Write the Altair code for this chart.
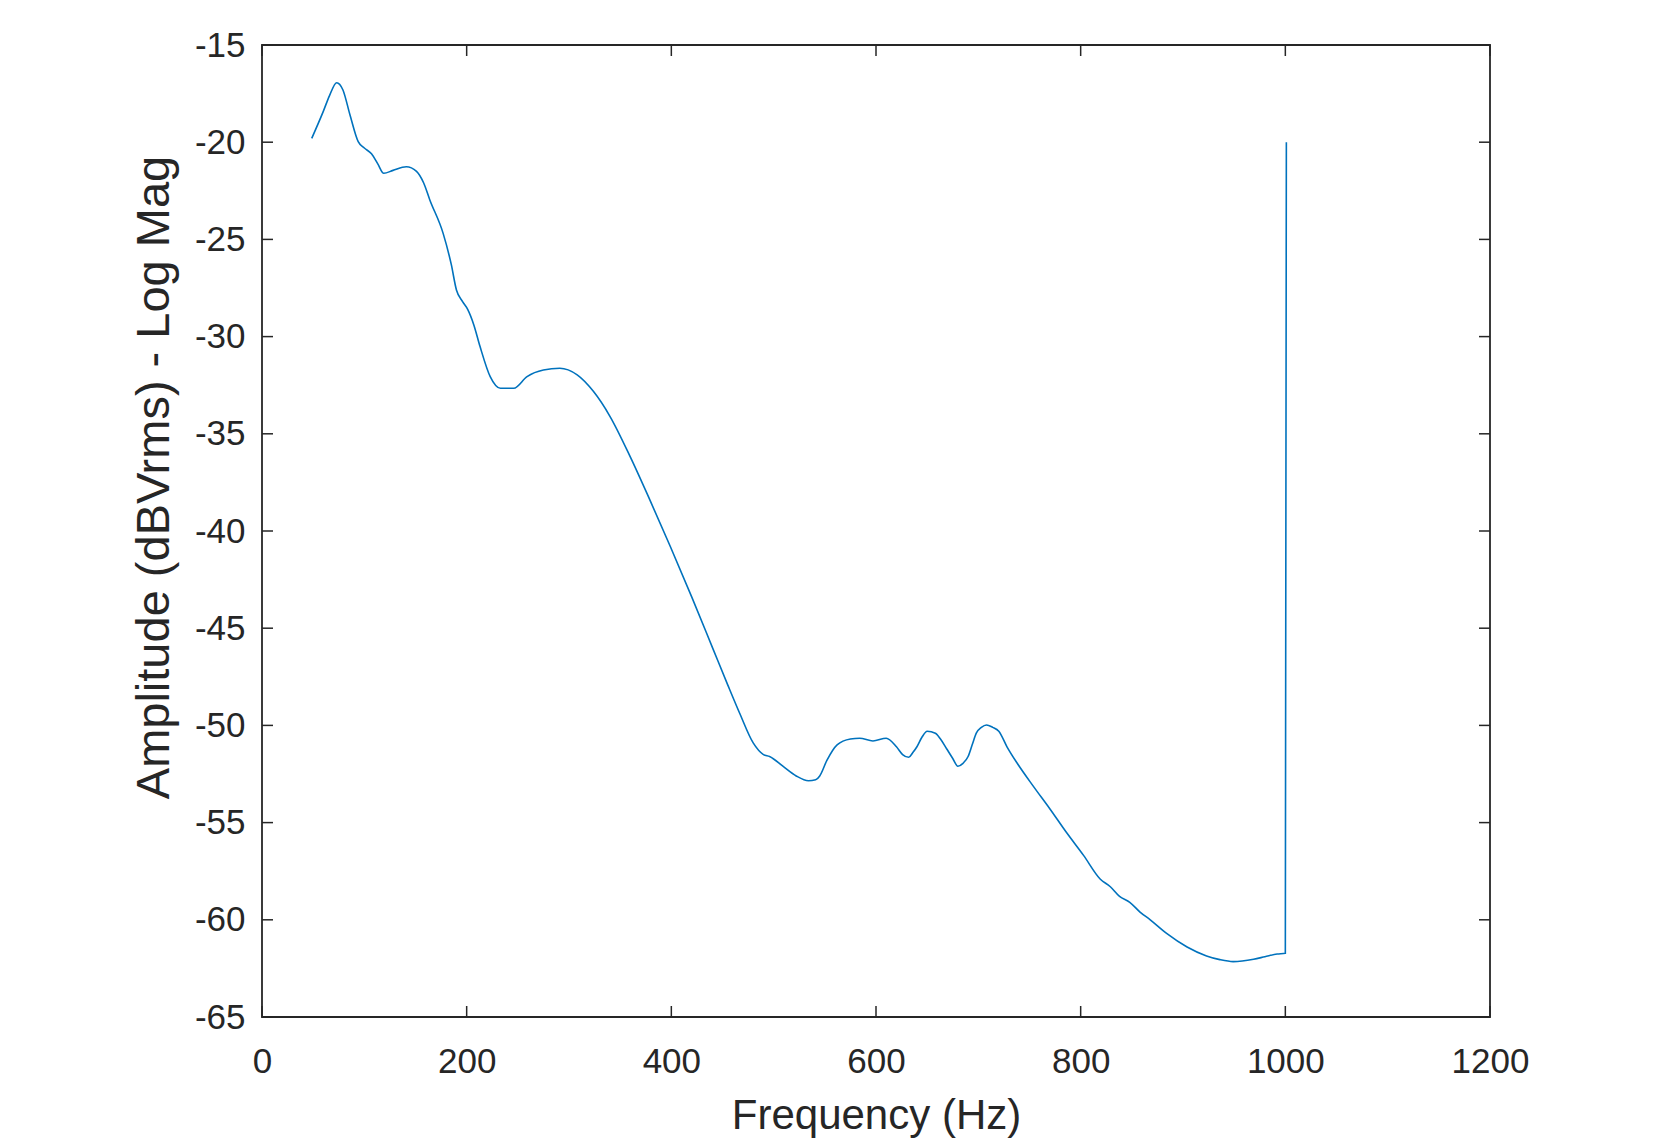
import altair as alt
import pandas as pd

# Frequency (Hz) and amplitude (dBVrms)
freq = [48.6, 60, 66, 73, 79, 86, 94, 100, 107, 113, 119, 128, 141, 151, 158, 164, 177, 185, 190, 196,
        201, 207, 213, 223, 233, 246, 259, 275, 291, 308, 324, 340, 360, 379, 399, 420, 441, 455, 467, 480,
        490, 496, 509, 522, 534, 541, 545, 552, 562, 575, 584, 597, 610, 620, 626, 632, 636, 640, 645, 650,
        658, 663, 669, 675, 680, 685, 690, 694, 698, 703, 708, 714, 720, 728, 738, 754, 770, 786, 803, 819,
        829, 838, 848, 858, 868, 884, 904, 923, 936, 949, 969, 980, 992, 1000, 1001]
amp = [-19.8, -18.4, -17.6, -16.94, -17.3, -18.6, -19.97, -20.3, -20.6, -21.1, -21.6, -21.45, -21.26, -21.5, -22.1,
       -22.97, -24.69, -26.3, -27.6, -28.2, -28.6, -29.4, -30.5, -32.06, -32.66, -32.66, -32.06, -31.72, -31.63,
       -31.97, -32.83, -34.1, -36.2, -38.4, -40.8, -43.4, -46.1, -47.9, -49.4, -50.9, -51.5, -51.6, -52.1, -52.6,
       -52.85, -52.8, -52.6, -51.8, -51.0, -50.7, -50.66, -50.8, -50.66, -51.1, -51.5, -51.64, -51.4, -51.1, -50.6,
       -50.3, -50.4, -50.7, -51.2, -51.7, -52.1, -51.95, -51.6, -51.0, -50.4, -50.1, -49.98, -50.1, -50.3, -51.1,
       -51.95, -53.15, -54.3, -55.5, -56.7, -57.9, -58.3, -58.8, -59.1, -59.6, -60.0, -60.7, -61.4, -61.86, -62.05,
       -62.15, -62.03, -61.9, -61.76, -61.72, -20.0]

x_ticks = [0, 200, 400, 600, 800, 1000, 1200]
y_ticks = [-65, -60, -55, -50, -45, -40, -35, -30, -25, -20, -15]

W, H = 1228, 972
TICK = 11
AX = "#262626"
FONT = "Liberation Sans"

df = pd.DataFrame({"f": freq, "a": amp})
xt = pd.DataFrame({"f": x_ticks})
yt = pd.DataFrame({"a": y_ticks})

xscale = alt.Scale(domain=[0, 1200], nice=False, zero=False)
yscale = alt.Scale(domain=[-65, -15], nice=False, zero=False)

xaxis = alt.Axis(
    values=x_ticks, title="Frequency (Hz)", domain=False, ticks=False, tickSize=0, grid=False,
    labelExpr="'' + datum.value",
    labelPadding=55, labelBaseline="alphabetic", labelFontSize=35, labelFont=FONT, labelColor=AX,
    labelFlush=False, labelOverlap=False,
    titleFontSize=42, titleFont=FONT, titleColor=AX, titleFontWeight="normal",
    titleX=W / 2, titleY=111, titleBaseline="alphabetic", titleAlign="center")
yaxis = alt.Axis(
    values=y_ticks, title="Amplitude (dBVrms) - Log Mag", domain=False, ticks=False, tickSize=0, grid=False,
    labelExpr="'' + datum.value",
    labelPadding=17, labelFontSize=35, labelFont=FONT, labelColor=AX, labelFlush=False, labelOverlap=False,
    titleFontSize=47, titleFont=FONT, titleColor=AX, titleFontWeight="normal",
    titleAngle=270, titleX=-108, titleY=432, titleBaseline="middle", titleAlign="center")

X = alt.X("f:Q", scale=xscale, axis=xaxis)
Y = alt.Y("a:Q", scale=yscale, axis=yaxis)

line = alt.Chart(df).mark_line(color="#0072BD", strokeWidth=1.6, interpolate="monotone").encode(x=X, y=Y)

bottom_ticks = alt.Chart(xt).mark_rule(color=AX, strokeWidth=1.5).encode(
    x=X, y=alt.value(H - TICK), y2=alt.value(H))
top_ticks = alt.Chart(xt).mark_rule(color=AX, strokeWidth=1.5).encode(
    x=X, y=alt.value(0), y2=alt.value(TICK))
left_ticks = alt.Chart(yt).mark_rule(color=AX, strokeWidth=1.5).encode(
    y=Y, x=alt.value(0), x2=alt.value(TICK))
right_ticks = alt.Chart(yt).mark_rule(color=AX, strokeWidth=1.5).encode(
    y=Y, x=alt.value(W - TICK), x2=alt.value(W))

chart = alt.layer(line, bottom_ticks, top_ticks, left_ticks, right_ticks).properties(
    width=W, height=H, autosize="none",
    padding={"left": 254, "top": 37, "right": 160, "bottom": 130},
    background="white",
).configure_view(stroke=AX, strokeWidth=1.8)

chart.save("out.html", embed_options={"renderer": "svg", "actions": False})
